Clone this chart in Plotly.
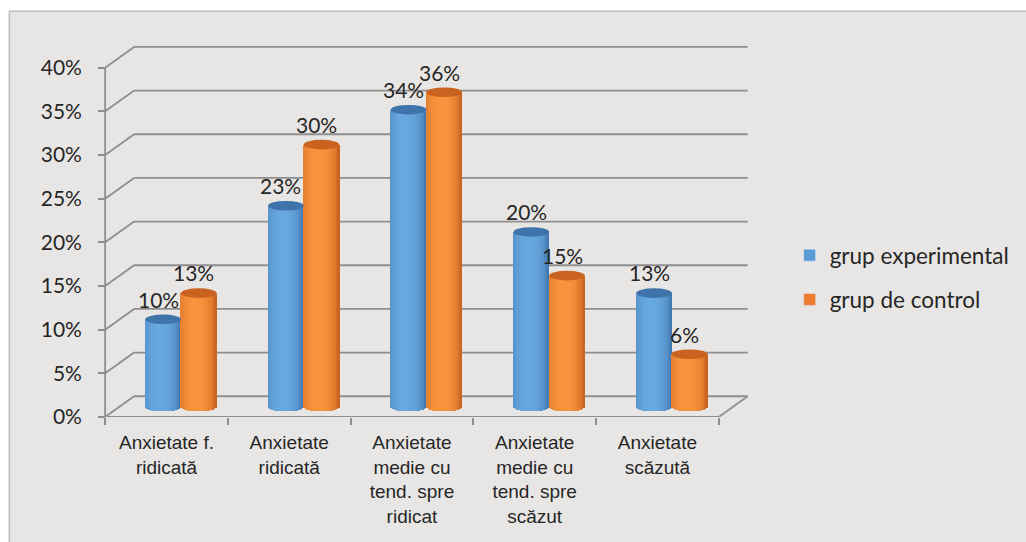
import numpy as np
import plotly.graph_objects as go

# ---------------- data ----------------
categories = [
    "Anxietate f.<br>ridicată",
    "Anxietate<br>ridicată",
    "Anxietate<br>medie cu<br>tend. spre<br>ridicat",
    "Anxietate<br>medie cu<br>tend. spre<br>scăzut",
    "Anxietate<br>scăzută",
]
series_names = ["grup experimental", "grup de control"]
experimental = [10, 23, 34, 20, 13]
control = [13, 30, 36, 15, 6]
y_tickvals = [0, 5, 10, 15, 20, 25, 30, 35, 40]
y_ticktext = [f"{v}%" for v in y_tickvals]

# ---------------- styling / geometry ----------------
FIG_W, FIG_H = 1026, 542
PX_X = 123.0          # pixels per category
PX_Y = 8.72           # pixels per percent
X_RANGE = [-0.05, 5.45]
Y_RANGE = [0, 45]
FRONT_LEFT_PX = 105.0
FRONT_ZERO_PX = 416.7
PLOT_W = (X_RANGE[1] - X_RANGE[0]) * PX_X
PLOT_H = (Y_RANGE[1] - Y_RANGE[0]) * PX_Y
M_L = FRONT_LEFT_PX + X_RANGE[0] * PX_X
M_R = FIG_W - M_L - PLOT_W
M_B = FIG_H - FRONT_ZERO_PX
M_T = FIG_H - M_B - PLOT_H

DX = 29 / PX_X        # depth offset (categories)
DY = 20.7 / PX_Y      # depth offset (percent)
BW = 0.29             # cylinder width (categories)
E = 0.55              # ellipse half-height (percent)
N_STRIPS = 22

GRID = "#8e8e8e"
TXT = "#262626"
BG = "#e8e6e5"
NUM_FONT = "Lato"
CAT_FONT = "Liberation Sans"

blue_edge, blue_mid = np.array([55, 105, 160]), np.array([104, 168, 224])
orng_edge, orng_mid = np.array([186, 86, 24]), np.array([249, 148, 62])
blue_top, orng_top = "#3f74aa", "#c9631f"
legend_colors = ["#5b9bd5", "#ed7d31"]


def px2paper_x(px):
    return (px - M_L) / PLOT_W


def px2paper_y(py):
    return (FIG_H - M_B - py) / PLOT_H


def shade(edge, mid, t):
    w = max(0.0, 1 - ((t + 0.15) / 1.15) ** 2) ** 0.55
    c = edge + (mid - edge) * w
    return "rgb(%d,%d,%d)" % tuple(int(round(v)) for v in c)


fig = go.Figure()

series = [experimental, control]
edges = [(blue_edge, blue_mid), (orng_edge, orng_mid)]
tops = [blue_top, orng_top]
xc = [i + 0.5 + DX / 2 for i in range(len(categories))]

for s, vals in enumerate(series):
    base_off = -BW if s == 0 else 0.0
    for k in range(N_STRIPS):
        t = -1 + (2 * k + 1) / N_STRIPS
        hh = E * np.sqrt(max(0.0, 1 - t * t))
        fig.add_trace(go.Bar(
            x=xc,
            y=[v + hh for v in vals],
            base=[DY / 2 - hh] * len(vals),
            width=BW / N_STRIPS * 1.2,
            offset=base_off + k * BW / N_STRIPS,
            marker=dict(color=shade(*edges[s], t), line=dict(width=0)),
            showlegend=False,
            hoverinfo="skip",
        ))

# legend entries
for s, name in enumerate(series_names):
    fig.add_trace(go.Bar(x=[None], y=[None], name=name,
                         marker=dict(color=legend_colors[s]),
                         legendgroup=name, hoverinfo="skip"))

shapes = []
# chart area background
shapes.append(dict(type="rect", xref="paper", yref="paper",
                   x0=px2paper_x(9), x1=px2paper_x(1040),
                   y0=px2paper_y(560), y1=px2paper_y(11.5),
                   fillcolor=BG, line=dict(color="#bdbdbd", width=1.5),
                   layer="below"))
ncat = len(categories)
for v in y_tickvals:
    shapes.append(dict(type="line", x0=0, y0=v, x1=DX, y1=v + DY,
                       line=dict(color=GRID, width=1.8), layer="below"))
    shapes.append(dict(type="line", x0=DX, y0=v + DY, x1=ncat + DX, y1=v + DY,
                       line=dict(color=GRID, width=1.8), layer="below"))
shapes.append(dict(type="line", x0=ncat, y0=0, x1=ncat + DX, y1=DY,
                   line=dict(color=GRID, width=1.8), layer="below"))
shapes.append(dict(type="line", x0=0, y0=0, x1=0, y1=y_tickvals[-1],
                   line=dict(color=GRID, width=1.8), layer="below"))
shapes.append(dict(type="line", x0=0, y0=0, x1=ncat, y1=0,
                   line=dict(color=GRID, width=1.8), layer="below"))

# cylinder tops
for s, vals in enumerate(series):
    for i, v in enumerate(vals):
        c = xc[i] + (-BW / 2 if s == 0 else BW / 2)
        shapes.append(dict(type="circle", x0=c - BW / 2, x1=c + BW / 2,
                           y0=DY / 2 + v - E, y1=DY / 2 + v + E,
                           fillcolor=tops[s], line=dict(width=0), layer="above"))

annotations = []
for s, vals in enumerate(series):
    for i, v in enumerate(vals):
        c = xc[i] + (-BW / 2 if s == 0 else BW / 2)
        annotations.append(dict(x=c - 0.04, y=v + 3.5, text=f"{v}%",
                                showarrow=False, xanchor="center", yanchor="middle",
                                font=dict(family=NUM_FONT, size=21, color=TXT)))

fig.update_layout(
    width=FIG_W, height=FIG_H,
    margin=dict(l=M_L, r=M_R, t=M_T, b=M_B, pad=0),
    paper_bgcolor="white", plot_bgcolor="rgba(0,0,0,0)",
    barmode="overlay", bargap=0,
    shapes=shapes, annotations=annotations,
    showlegend=True,
    legend=dict(x=px2paper_x(790), y=px2paper_y(234), xanchor="left", yanchor="top",
                bgcolor="rgba(0,0,0,0)", traceorder="grouped", tracegroupgap=12,
                font=dict(family=NUM_FONT, size=22.5, color=TXT)),
    xaxis=dict(range=X_RANGE, showgrid=False, zeroline=False, showline=False,
               tickvals=[i + 0.5 for i in range(ncat)], ticktext=categories,
               ticks="", ticklabelstandoff=12,
               tickfont=dict(family=CAT_FONT, size=19, color=TXT),
               minor=dict(tickvals=list(range(ncat + 1)), ticks="outside",
                          ticklen=7, tickwidth=1.8, tickcolor=GRID, showgrid=False),
               fixedrange=True),
    yaxis=dict(range=Y_RANGE, showgrid=False, zeroline=False, showline=False,
               anchor="free", position=px2paper_x(FRONT_LEFT_PX),
               tickvals=y_tickvals, ticktext=y_ticktext,
               ticks="outside", ticklen=7, tickwidth=1.8, tickcolor=GRID,
               ticklabelstandoff=12,
               tickfont=dict(family=NUM_FONT, size=21, color=TXT),
               fixedrange=True),
)

fig.write_html("out.html")
